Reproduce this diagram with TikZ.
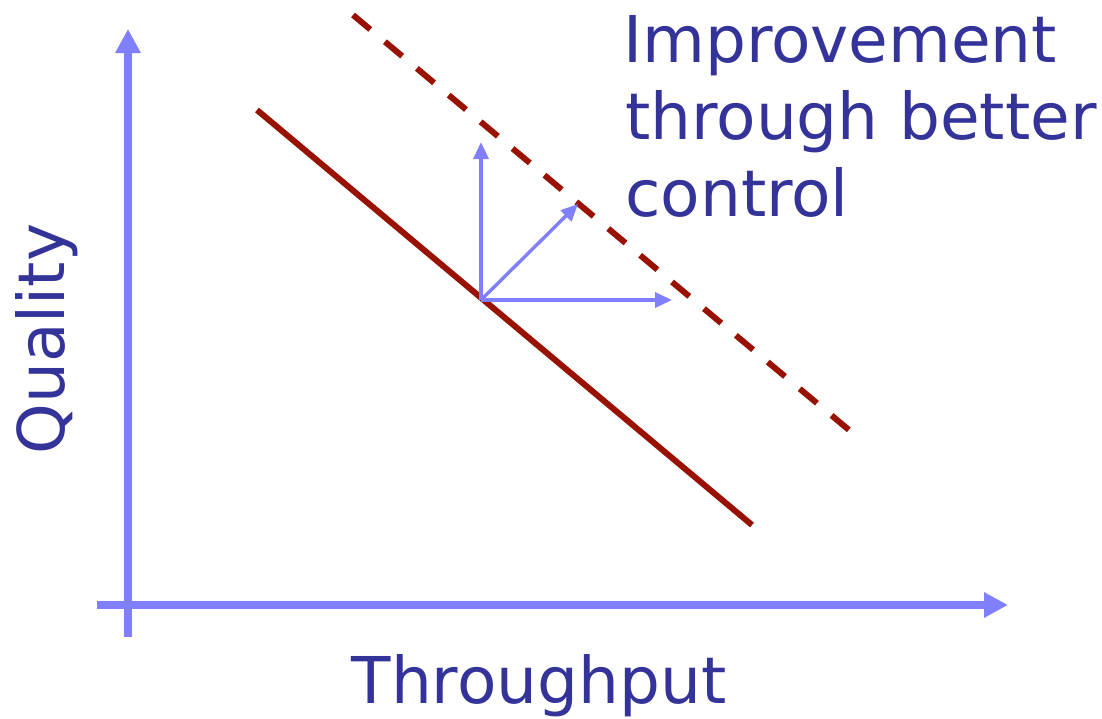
\documentclass[tikz,border=0pt]{standalone}
\usepackage{fontspec}
\setmainfont{DejaVu Sans}
\usetikzlibrary{arrows.meta}
\definecolor{axisblue}{RGB}{128,128,255}
\definecolor{textblue}{RGB}{51,51,153}
\definecolor{linered}{RGB}{153,17,0}
\tikzset{
  axisline/.style={draw=axisblue, line width=8pt, -{Triangle[width=24pt,length=24pt]}},
  vecline/.style={draw=axisblue, line width=3.4pt, -{Triangle[width=15pt,length=17pt]}},
  frontier/.style={draw=linered, line width=6pt},
  label/.style={text=textblue, inner sep=0pt, font=\fontsize{64.5}{77}\selectfont},
}
\begin{document}
\begin{tikzpicture}[x=1pt,y=-1pt]
\useasboundingbox (0,0) rectangle (1102,718);
% axes
\coordinate (ybot) at (128,637);
\coordinate (ytop) at (128,29);
\coordinate (xleft) at (97,605);
\coordinate (xright) at (1008,605);
\draw[axisline] (ybot) -- (ytop);
\draw[axisline] (xleft) -- (xright);
% frontier lines
\coordinate (s1) at (257,110);
\coordinate (s2) at (752,525);
\coordinate (d1) at (353,15);
\coordinate (d2) at (849,430);
\draw[frontier] (s1) -- (s2);
\draw[frontier, dash pattern=on 22.5pt off 19.1pt] (d1) -- (d2);
% improvement vectors
\coordinate (o) at (481,300);
\coordinate (vup) at (481,142);
\coordinate (vdiag) at (578,204);
\coordinate (vright) at (672,300);
\draw[vecline] (o) -- (vup);
\draw[vecline] (o) -- (vdiag);
\draw[vecline] (o) -- (vright);
% labels
\node[label, anchor=base west] (t1) at (623,62) {Improvement};
\node[label, anchor=base west] (t2) at (625,139) {through better};
\node[label, anchor=base west] (t3) at (625,216) {control};
\node[label, anchor=base, rotate=90] (q) at (64,339) {Quality};
\node[label, anchor=base] (tp) at (539,703) {Throughput};
\end{tikzpicture}
\end{document}
